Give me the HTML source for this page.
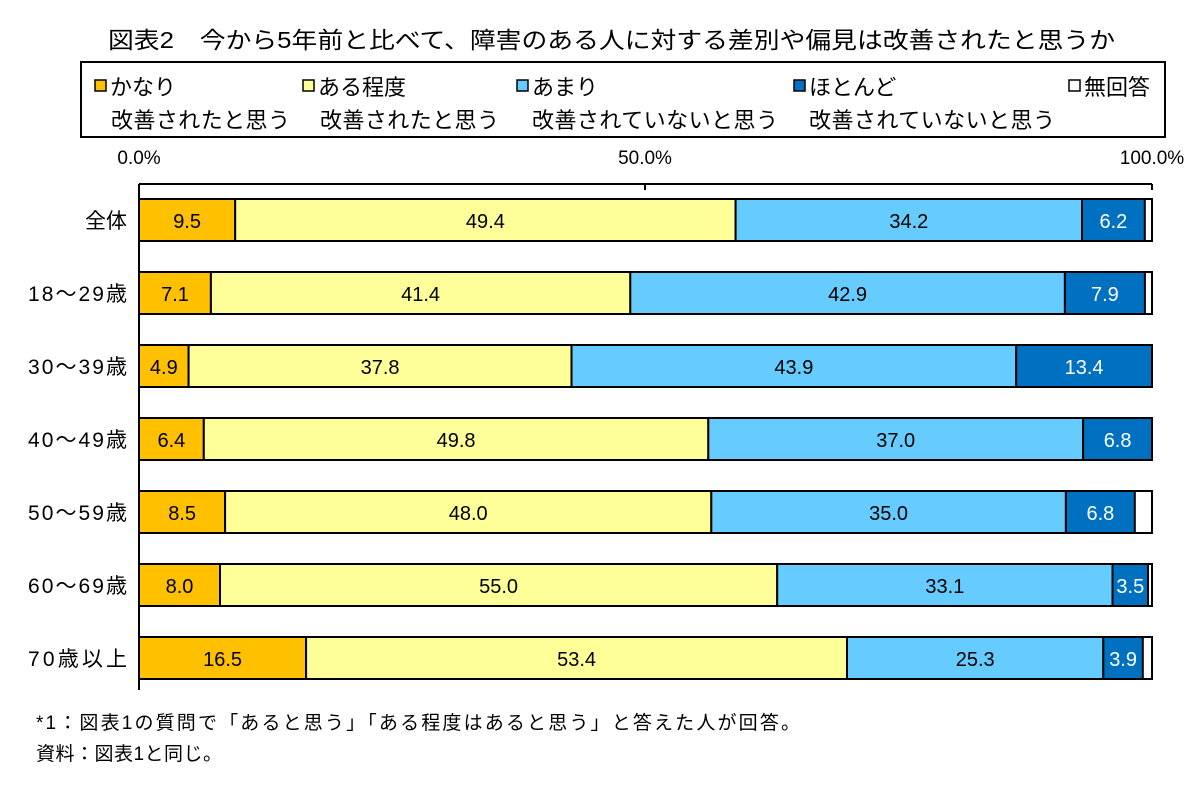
<!DOCTYPE html><html><head><meta charset="utf-8"><style>body{margin:0;background:#fff}svg text{font-family:"Liberation Sans","Noto Sans CJK JP",sans-serif}</style></head><body>
<svg width="1201" height="790" xmlns="http://www.w3.org/2000/svg">
<text x="108" y="48" font-size="23" textLength="1007" lengthAdjust="spacingAndGlyphs">図表2　今から5年前と比べて、障害のある人に対する差別や偏見は改善されたと思うか</text>
<rect x="81" y="62" width="1084" height="75" fill="none" stroke="#000" stroke-width="2"/>
<g font-size="22">
<rect x="95" y="80" width="11" height="11" fill="#FFC000" stroke="#000" stroke-width="1.5"/><text x="110" y="95">かなり</text><text x="111" y="128" textLength="179">改善されたと思う</text>
<rect x="303" y="80" width="11" height="11" fill="#FFFF99" stroke="#000" stroke-width="1.5"/><text x="318" y="95">ある程度</text><text x="320" y="128" textLength="179">改善されたと思う</text>
<rect x="517" y="80" width="11" height="11" fill="#66CCFF" stroke="#000" stroke-width="1.5"/><text x="532" y="95">あまり</text><text x="532" y="128" textLength="246">改善されていないと思う</text>
<rect x="794" y="80" width="11" height="11" fill="#0070C0" stroke="#000" stroke-width="1.5"/><text x="809" y="95">ほとんど</text><text x="809" y="128" textLength="246">改善されていないと思う</text>
<rect x="1069" y="80" width="11" height="11" fill="#fff" stroke="#000" stroke-width="1.5"/><text x="1084" y="95">無回答</text>
</g>
<g font-size="19" text-anchor="middle"><text x="139" y="164">0.0%</text><text x="645" y="164">50.0%</text><text x="1152" y="164">100.0%</text></g>
<path d="M139 184H1152M645 184v6M1152 184v6M139 184V690" stroke="#000" stroke-width="2" fill="none"/>
<g stroke="#000" stroke-width="2">
<rect x="139" y="199" width="1013" height="42" fill="#fff"/><rect x="139" y="199" width="96.2" height="42" fill="#FFC000"/><rect x="235.2" y="199" width="500.4" height="42" fill="#FFFF99"/><rect x="735.6" y="199" width="346.4" height="42" fill="#66CCFF"/><rect x="1082" y="199" width="62.8" height="42" fill="#0070C0"/>
<rect x="139" y="272" width="1013" height="42" fill="#fff"/><rect x="139" y="272" width="71.9" height="42" fill="#FFC000"/><rect x="210.9" y="272" width="419.4" height="42" fill="#FFFF99"/><rect x="630.3" y="272" width="434.6" height="42" fill="#66CCFF"/><rect x="1064.9" y="272" width="80" height="42" fill="#0070C0"/>
<rect x="139" y="345" width="1013" height="42" fill="#fff"/><rect x="139" y="345" width="49.6" height="42" fill="#FFC000"/><rect x="188.6" y="345" width="382.9" height="42" fill="#FFFF99"/><rect x="571.5" y="345" width="444.7" height="42" fill="#66CCFF"/><rect x="1016.2" y="345" width="135.8" height="42" fill="#0070C0"/>
<rect x="139" y="418" width="1013" height="42" fill="#fff"/><rect x="139" y="418" width="64.8" height="42" fill="#FFC000"/><rect x="203.8" y="418" width="504.5" height="42" fill="#FFFF99"/><rect x="708.3" y="418" width="374.8" height="42" fill="#66CCFF"/><rect x="1083.1" y="418" width="68.9" height="42" fill="#0070C0"/>
<rect x="139" y="491" width="1013" height="42" fill="#fff"/><rect x="139" y="491" width="86.1" height="42" fill="#FFC000"/><rect x="225.1" y="491" width="486.2" height="42" fill="#FFFF99"/><rect x="711.3" y="491" width="354.6" height="42" fill="#66CCFF"/><rect x="1065.9" y="491" width="68.9" height="42" fill="#0070C0"/>
<rect x="139" y="564" width="1013" height="42" fill="#fff"/><rect x="139" y="564" width="81" height="42" fill="#FFC000"/><rect x="220" y="564" width="557.2" height="42" fill="#FFFF99"/><rect x="777.2" y="564" width="335.3" height="42" fill="#66CCFF"/><rect x="1112.5" y="564" width="35.5" height="42" fill="#0070C0"/>
<rect x="139" y="637" width="1013" height="42" fill="#fff"/><rect x="139" y="637" width="167.1" height="42" fill="#FFC000"/><rect x="306.1" y="637" width="540.9" height="42" fill="#FFFF99"/><rect x="847" y="637" width="256.3" height="42" fill="#66CCFF"/><rect x="1103.3" y="637" width="39.5" height="42" fill="#0070C0"/>
</g>
<g font-size="21" text-anchor="end">
<text x="127" y="228">全体</text><text x="127" y="301" textLength="99">18～29歳</text><text x="127" y="374" textLength="99">30～39歳</text><text x="127" y="447" textLength="99">40～49歳</text><text x="127" y="520" textLength="99">50～59歳</text><text x="127" y="593" textLength="99">60～69歳</text><text x="127" y="666" textLength="99">70歳以上</text>
</g>
<g font-size="20" text-anchor="middle">
<text x="187.1" y="228">9.5</text><text x="485.4" y="228">49.4</text><text x="908.8" y="228">34.2</text><text x="1113.4" y="228" fill="#fff">6.2</text>
<text x="175" y="301">7.1</text><text x="420.6" y="301">41.4</text><text x="847.6" y="301">42.9</text><text x="1104.9" y="301" fill="#fff">7.9</text>
<text x="163.8" y="374">4.9</text><text x="380.1" y="374">37.8</text><text x="793.9" y="374">43.9</text><text x="1084.1" y="374" fill="#fff">13.4</text>
<text x="171.4" y="447">6.4</text><text x="456.1" y="447">49.8</text><text x="895.7" y="447">37.0</text><text x="1117.6" y="447" fill="#fff">6.8</text>
<text x="182.1" y="520">8.5</text><text x="468.2" y="520">48.0</text><text x="888.6" y="520">35.0</text><text x="1100.4" y="520" fill="#fff">6.8</text>
<text x="179.5" y="593">8.0</text><text x="498.6" y="593">55.0</text><text x="944.9" y="593">33.1</text><text x="1130.3" y="593" fill="#fff">3.5</text>
<text x="222.6" y="666">16.5</text><text x="576.6" y="666">53.4</text><text x="975.2" y="666">25.3</text><text x="1123.1" y="666" fill="#fff">3.9</text>
</g>
<g font-size="19"><text x="36" y="729" textLength="764">*1：図表1の質問で「あると思う」「ある程度はあると思う」と答えた人が回答。</text><text x="36" y="760" textLength="186">資料：図表1と同じ。</text></g>
</svg></body></html>
